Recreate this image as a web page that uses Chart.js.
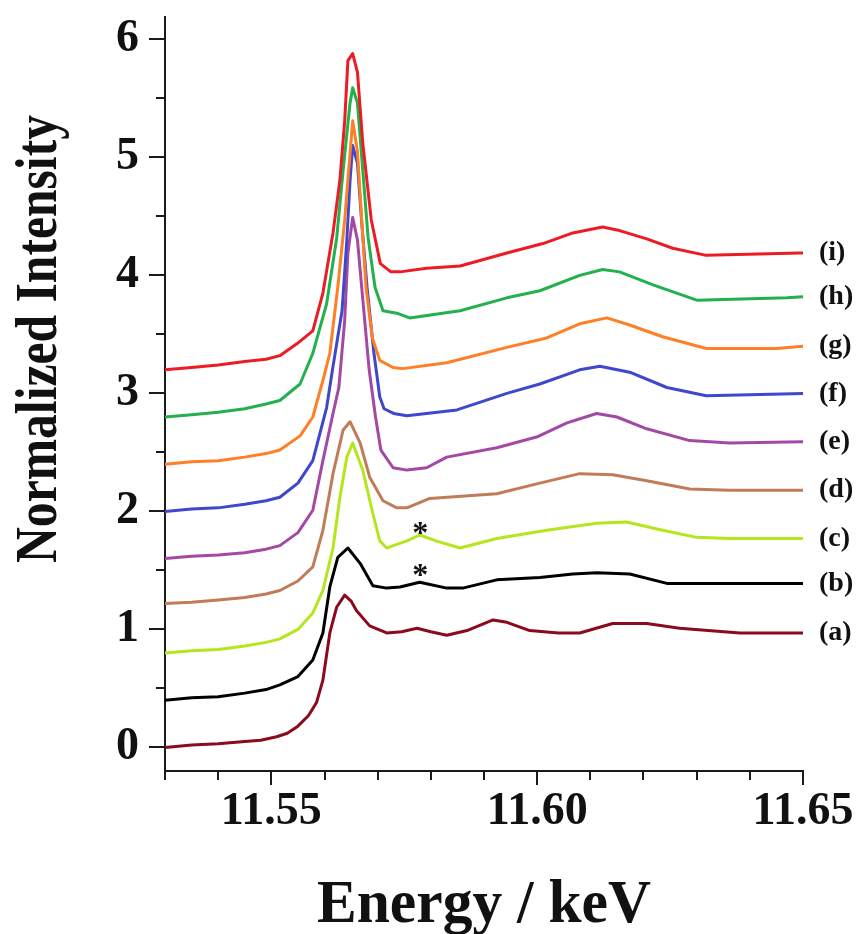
<!DOCTYPE html>
<html>
<head>
<meta charset="utf-8">
<script src="https://cdn.jsdelivr.net/npm/chart.js@4.4.1/dist/chart.umd.min.js"></script>
<style>
  html, body { margin: 0; padding: 0; background: #ffffff; }
  canvas { display: block; }
</style>
</head>
<body>
<canvas id="xanes" width="859" height="934" style="width:859px;height:934px"></canvas>
<script>
// Normalized XANES spectra, stacked with vertical offsets: [energy keV, intensity]
const seriesA = [[11.530,0.00],[11.535,0.02],[11.540,0.03],[11.545,0.05],[11.548,0.06],[11.551,0.09],[11.553,0.12],[11.555,0.18],[11.557,0.27],[11.5585,0.38],[11.5597,0.57],[11.561,0.97],[11.5623,1.19],[11.5638,1.29],[11.565,1.24],[11.566,1.16],[11.5685,1.03],[11.5717,0.97],[11.5745,0.98],[11.5774,1.01],[11.580,0.98],[11.583,0.95],[11.5868,0.99],[11.5917,1.08],[11.5943,1.06],[11.5986,0.99],[11.604,0.97],[11.608,0.97],[11.6142,1.05],[11.6206,1.05],[11.6268,1.01],[11.6381,0.97],[11.650,0.97]];
const seriesB = [[11.530,0.40],[11.535,0.42],[11.540,0.43],[11.545,0.46],[11.549,0.49],[11.5516,0.53],[11.555,0.60],[11.5578,0.74],[11.5597,0.97],[11.561,1.36],[11.5625,1.61],[11.5644,1.69],[11.5667,1.56],[11.5691,1.37],[11.5717,1.35],[11.5742,1.36],[11.5779,1.40],[11.583,1.35],[11.586,1.35],[11.5924,1.42],[11.6005,1.44],[11.6067,1.47],[11.6112,1.48],[11.6174,1.47],[11.6244,1.39],[11.6287,1.39],[11.650,1.39]];
const seriesC = [[11.530,0.80],[11.535,0.82],[11.540,0.83],[11.545,0.86],[11.549,0.89],[11.5516,0.92],[11.555,1.00],[11.5578,1.14],[11.5597,1.33],[11.5616,1.69],[11.5629,2.12],[11.5642,2.46],[11.5653,2.58],[11.5672,2.35],[11.5691,1.98],[11.5704,1.75],[11.5717,1.69],[11.5723,1.70],[11.5755,1.75],[11.5779,1.80],[11.581,1.75],[11.5855,1.69],[11.5924,1.77],[11.6018,1.84],[11.6112,1.90],[11.6168,1.91],[11.6236,1.84],[11.630,1.78],[11.6362,1.77],[11.650,1.77]];
const seriesD = [[11.530,1.22],[11.535,1.23],[11.540,1.25],[11.545,1.27],[11.549,1.30],[11.5516,1.33],[11.555,1.41],[11.5578,1.53],[11.5597,1.84],[11.5616,2.32],[11.5635,2.69],[11.5648,2.76],[11.5667,2.58],[11.5685,2.29],[11.571,2.09],[11.5736,2.03],[11.5755,2.03],[11.5798,2.11],[11.5924,2.15],[11.6005,2.24],[11.608,2.32],[11.6142,2.31],[11.6206,2.26],[11.6287,2.19],[11.6362,2.18],[11.650,2.18]];
const seriesE = [[11.530,1.60],[11.535,1.62],[11.540,1.63],[11.545,1.65],[11.549,1.68],[11.5516,1.71],[11.555,1.82],[11.5578,2.01],[11.5597,2.43],[11.5616,2.83],[11.5627,3.05],[11.5638,3.62],[11.5644,4.19],[11.5653,4.49],[11.5662,4.30],[11.5672,3.80],[11.5684,3.20],[11.5696,2.80],[11.5706,2.52],[11.5729,2.37],[11.5755,2.35],[11.5792,2.37],[11.583,2.46],[11.5924,2.54],[11.5999,2.63],[11.6056,2.75],[11.6112,2.83],[11.615,2.80],[11.6206,2.70],[11.6287,2.60],[11.6362,2.58],[11.650,2.59]];
const seriesF = [[11.530,2.00],[11.535,2.02],[11.540,2.03],[11.545,2.06],[11.549,2.09],[11.5516,2.12],[11.555,2.24],[11.5578,2.43],[11.5604,2.88],[11.5615,3.20],[11.5633,3.70],[11.5642,4.30],[11.5648,4.80],[11.5653,5.10],[11.5662,4.95],[11.5670,4.45],[11.5680,3.90],[11.5693,3.34],[11.5704,2.97],[11.5712,2.87],[11.573,2.83],[11.5755,2.81],[11.5849,2.86],[11.5943,3.00],[11.6005,3.08],[11.608,3.20],[11.6118,3.23],[11.6174,3.18],[11.6244,3.05],[11.6318,2.98],[11.650,3.00]];
const seriesG = [[11.530,2.40],[11.535,2.42],[11.540,2.43],[11.545,2.46],[11.549,2.49],[11.5516,2.52],[11.5554,2.64],[11.5578,2.80],[11.5597,3.11],[11.561,3.34],[11.5625,3.90],[11.5638,4.47],[11.5648,5.03],[11.5653,5.31],[11.5662,5.05],[11.5670,4.47],[11.5678,3.90],[11.5690,3.47],[11.5704,3.28],[11.5729,3.22],[11.5747,3.21],[11.583,3.26],[11.5943,3.39],[11.6018,3.47],[11.608,3.59],[11.6131,3.64],[11.6174,3.58],[11.6236,3.48],[11.6318,3.38],[11.645,3.38],[11.650,3.40]];
const seriesH = [[11.530,2.80],[11.535,2.82],[11.540,2.84],[11.545,2.87],[11.549,2.91],[11.5516,2.94],[11.5554,3.08],[11.5578,3.34],[11.5604,3.76],[11.5623,4.32],[11.5635,4.89],[11.5648,5.46],[11.5653,5.59],[11.5662,5.46],[11.5672,4.89],[11.5682,4.32],[11.5695,3.90],[11.571,3.70],[11.5736,3.68],[11.576,3.64],[11.5855,3.70],[11.5943,3.81],[11.6005,3.87],[11.608,4.00],[11.6123,4.05],[11.6155,4.03],[11.6218,3.92],[11.630,3.79],[11.647,3.81],[11.650,3.82]];
const seriesI = [[11.530,3.20],[11.535,3.22],[11.540,3.24],[11.545,3.27],[11.549,3.29],[11.5516,3.32],[11.5548,3.42],[11.5578,3.53],[11.5597,3.85],[11.5616,4.36],[11.5629,4.81],[11.5638,5.31],[11.5644,5.82],[11.5653,5.88],[11.5662,5.72],[11.5672,5.12],[11.5688,4.47],[11.5705,4.10],[11.5725,4.03],[11.5742,4.03],[11.5792,4.06],[11.5855,4.08],[11.5943,4.19],[11.6011,4.27],[11.6067,4.36],[11.6123,4.41],[11.6155,4.38],[11.6206,4.31],[11.6255,4.23],[11.6318,4.17],[11.6494,4.19],[11.650,4.19]];

const seriesLabels = ['(a)', '(b)', '(c)', '(d)', '(e)', '(f)', '(g)', '(h)', '(i)'];
const seriesColors = ['#8a0a1e', '#000000', '#b5e61d', '#c07c58', '#a349a4', '#3f48cc', '#ff7f27', '#22b14c', '#ed1c24'];

// Axis ticks
const xTickLabels = ['11.55', '11.60', '11.65'];
const xMinorTicks = [11.53, 11.54, 11.55, 11.56, 11.57, 11.58, 11.59, 11.60, 11.61, 11.62, 11.63, 11.64, 11.65];
const yTickLabels = ['0', '1', '2', '3', '4', '5', '6'];
const yMinorTicks = [0.5, 1.5, 2.5, 3.5, 4.5, 5.5];

// Asterisk marks above the shoulder of (c) and (b): energy, intensity
const starEnergy = [11.578, 11.578];
const starLevel = [1.86, 1.50];

const xTitle = 'Energy / keV';
const yTitle = 'Normalized Intensity';

const FONT = "'Liberation Serif', 'Times New Roman', serif";
const allSeries = [seriesA, seriesB, seriesC, seriesD, seriesE, seriesF, seriesG, seriesH, seriesI];

// Last series listed first so that it is painted on top
const datasets = allSeries.map((s, i) => ({
  label: seriesLabels[i],
  data: s.map(p => ({ x: p[0], y: p[1] })),
  borderColor: seriesColors[i],
  backgroundColor: seriesColors[i],
  borderWidth: 3,
  borderJoinStyle: 'round',
  borderCapStyle: 'round',
  pointRadius: 0,
  tension: 0,
  fill: false
})).reverse();

const annotations = {
  id: 'annotations',
  afterDraw(chart) {
    const ctx = chart.ctx;
    const xs = chart.scales.x, ys = chart.scales.y;
    const area = chart.chartArea;
    ctx.save();
    ctx.strokeStyle = '#1a1a1a';
    ctx.lineWidth = 2;
    ctx.lineCap = 'butt';
    // x ticks: minor every 0.01, longer where labelled
    xMinorTicks.forEach(v => {
      const px = Math.round(xs.getPixelForValue(v));
      const major = xTickLabels.some(t => Math.abs(parseFloat(t) - v) < 1e-6);
      const len = major ? 14 : 9;
      ctx.beginPath();
      ctx.moveTo(px, area.bottom);
      ctx.lineTo(px, area.bottom + len);
      ctx.stroke();
    });
    // y ticks: major on integers, minor on halves
    yTickLabels.forEach(t => {
      const py = Math.round(ys.getPixelForValue(parseFloat(t)));
      ctx.beginPath();
      ctx.moveTo(area.left - 16, py);
      ctx.lineTo(area.left, py);
      ctx.stroke();
    });
    yMinorTicks.forEach(v => {
      const py = Math.round(ys.getPixelForValue(v));
      ctx.beginPath();
      ctx.moveTo(area.left - 9, py);
      ctx.lineTo(area.left, py);
      ctx.stroke();
    });

    ctx.fillStyle = '#111111';
    // series labels at the right end of each curve
    ctx.font = 'bold 28px ' + FONT;
    ctx.textAlign = 'left';
    ctx.textBaseline = 'middle';
    allSeries.forEach((s, i) => {
      const last = s[s.length - 1];
      ctx.fillText(seriesLabels[i], area.right + 16, ys.getPixelForValue(last[1]));
    });

    // asterisks
    ctx.font = 'bold 32px ' + FONT;
    ctx.textAlign = 'center';
    ctx.textBaseline = 'alphabetic';
    starEnergy.forEach((e, i) => {
      ctx.fillText('*', xs.getPixelForValue(e), ys.getPixelForValue(starLevel[i]) + 15);
    });

    // x axis title
    ctx.font = 'bold 62px ' + FONT;
    ctx.textAlign = 'center';
    ctx.textBaseline = 'alphabetic';
    const xw = ctx.measureText(xTitle).width;
    ctx.save();
    ctx.translate((area.left + area.right) / 2, 922);
    ctx.scale(334 / xw, 1);
    ctx.fillText(xTitle, 0, 0);
    ctx.restore();

    // y axis title (rotated)
    ctx.font = 'bold 60px ' + FONT;
    const yw = ctx.measureText(yTitle).width;
    ctx.save();
    ctx.translate(56, 339);
    ctx.rotate(-Math.PI / 2);
    ctx.scale(448 / yw, 1);
    ctx.textAlign = 'center';
    ctx.textBaseline = 'alphabetic';
    ctx.fillText(yTitle, 0, 0);
    ctx.restore();

    ctx.restore();
  }
};

new Chart(document.getElementById('xanes'), {
  type: 'line',
  data: { datasets },
  options: {
    responsive: false,
    animation: false,
    devicePixelRatio: 1,
    layout: { padding: { left: 0, right: 56, top: 17, bottom: 0 } },
    plugins: {
      legend: { display: false },
      tooltip: { enabled: false },
      title: { display: false }
    },
    scales: {
      x: {
        type: 'linear',
        min: 11.53,
        max: 11.65,
        afterBuildTicks(scale) {
          scale.ticks = xTickLabels.map(t => ({ value: parseFloat(t), label: t }));
        },
        afterFit(scale) {
          scale.height = 163;
          scale.paddingLeft = 0;
          scale.paddingRight = 0;
        },
        grid: { drawOnChartArea: false, drawTicks: true, tickLength: 14, tickColor: 'rgba(0,0,0,0)' },
        border: { display: true, color: '#1a1a1a', width: 2 },
        ticks: {
          autoSkip: false,
          maxRotation: 0,
          padding: 0,
          color: '#111111',
          font: { family: FONT, size: 46, weight: 'bold' },
          callback: (v) => {
            const t = xTickLabels.find(s => Math.abs(parseFloat(s) - v) < 1e-6);
            return t === undefined ? '' : t;
          }
        }
      },
      y: {
        type: 'linear',
        min: -0.2,
        max: 6.19,
        afterBuildTicks(scale) {
          scale.ticks = yTickLabels.map(t => ({ value: parseFloat(t), label: t }));
        },
        afterFit(scale) {
          scale.width = 165;
          scale.paddingTop = 0;
          scale.paddingBottom = 0;
        },
        grid: { drawOnChartArea: false, drawTicks: true, tickLength: 16, tickColor: 'rgba(0,0,0,0)' },
        border: { display: true, color: '#1a1a1a', width: 2 },
        ticks: {
          padding: 10,
          color: '#111111',
          font: { family: FONT, size: 46, weight: 'bold' },
          callback: (v) => {
            const t = yTickLabels.find(s => Math.abs(parseFloat(s) - v) < 1e-6);
            return t === undefined ? '' : t;
          }
        }
      }
    }
  },
  plugins: [annotations]
});
</script>
</body>
</html>
